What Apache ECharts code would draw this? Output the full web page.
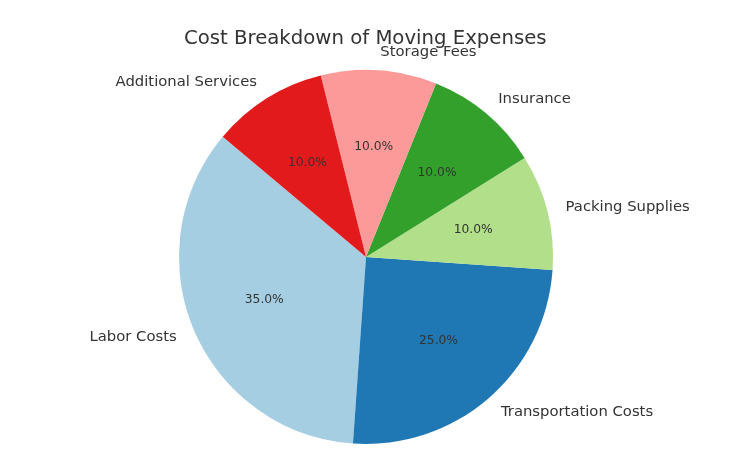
<!DOCTYPE html>
<html>
<head>
<meta charset="utf-8">
<script src="https://cdn.jsdelivr.net/npm/echarts@6/dist/echarts.min.js"></script>
<style>html,body{margin:0;padding:0;background:#fff;}#chart{width:753px;height:471px;}</style>
</head>
<body>
<div id="chart"></div>
<script>
const categories = ['Labor Costs', 'Transportation Costs', 'Packing Supplies', 'Insurance', 'Storage Fees', 'Additional Services'];
const values = [35, 25, 10, 10, 10, 10];
const colors = ['#a6cee3', '#1f78b4', '#b2df8a', '#33a02c', '#fb9a99', '#e31a1c'];
const titleText = 'Cost Breakdown of Moving Expenses';

const R = 187;
const C = [366, 257];
const total = values.reduce((a, b) => a + b, 0);
const data = categories.map((c, i) => ({ name: c, value: values[i], itemStyle: { color: colors[i] } }));
const ghost = categories.map((c, i) => ({ name: c, value: values[i], itemStyle: { color: 'rgba(0,0,0,0)' } }));

const chart = echarts.init(document.getElementById('chart'), null, { renderer: 'canvas' });
chart.setOption({
  animation: false,
  backgroundColor: '#ffffff',
  title: {
    text: titleText, left: 179, top: 24,
    textStyle: { fontFamily: 'DejaVu Sans', fontSize: 19.7, fontWeight: 'normal', color: '#333333' }
  },
  series: [
    {
      type: 'pie', center: C, radius: R, startAngle: 140, clockwise: false,
      avoidLabelOverlap: false, silent: true,
      data: data,
      label: {
        show: true, position: 'outside', formatter: '{b}',
        fontFamily: 'DejaVu Sans', fontSize: 14.8, color: '#333333', distanceToLabelLine: 0
      },
      labelLine: { show: false, length: R * 0.1, length2: 0 }
    },
    {
      type: 'pie', center: C, radius: R * 1.15, startAngle: 140, clockwise: false,
      avoidLabelOverlap: false, silent: true, z: 5,
      data: ghost,
      label: {
        show: true, position: 'inside',
        formatter: p => (p.value / total * 100).toFixed(1) + '%',
        fontFamily: 'DejaVu Sans', fontSize: 12.3, color: '#333333'
      },
      labelLine: { show: false }
    }
  ]
});
</script>
</body>
</html>
